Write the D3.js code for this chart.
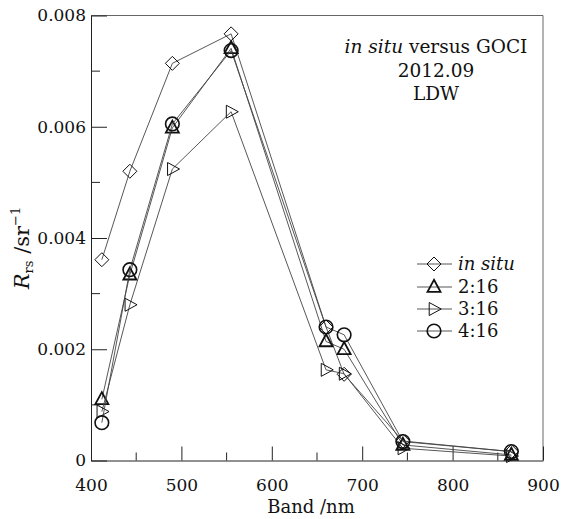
<!DOCTYPE html>
<html>
<head>
<meta charset="utf-8">
<script src="https://cdn.jsdelivr.net/npm/d3@7"></script>
<style>
  html, body { margin: 0; padding: 0; background: #fff; }
  svg text { font-family: "DejaVu Serif", "Liberation Serif", serif !important; fill: #111; }
</style>
</head>
<body>
<svg id="chart" width="561" height="519"></svg>
<script>
// GOCI band centres (nm)
const bands = [412, 443, 490, 555, 660, 680, 745, 865];

// Remote-sensing reflectance Rrs (sr^-1)
const inSitu = [0.00361, 0.00520, 0.00714, 0.00767, 0.00240, 0.00155, 0.00035, 0.00016];
const t0216  = [0.00110, 0.00334, 0.00598, 0.00741, 0.00214, 0.00200, 0.00028, 0.00010];
const t0316  = [0.00088, 0.00280, 0.00524, 0.00627, 0.00163, 0.00156, 0.00022, 0.00008];
const t0416  = [0.00068, 0.00343, 0.00605, 0.00737, 0.00240, 0.00226, 0.00034, 0.00016];

const seriesNames = ["in situ", "2:16", "3:16", "4:16"];
const seriesValues = [inSitu, t0216, t0316, t0416];
const seriesSymbols = ["diamond", "triUp", "triRight", "circle"];

const xMajorTicks = [400, 500, 600, 700, 800, 900];
const xMinorTicks = [450, 550, 650, 750, 850];
const yMajorTicks = [0, 0.002, 0.004, 0.006, 0.008];
const yMinorTicks = [0.001, 0.003, 0.005, 0.007];

const FONT = "'DejaVu Serif', 'Liberation Serif', serif";
const svg = d3.select("#chart");
const m = { left: 91, top: 15.5, right: 543, bottom: 460.5 };

const x = d3.scaleLinear().domain([400, 900]).range([m.left, m.right]);
const y = d3.scaleLinear().domain([0, 0.008]).range([m.bottom, m.top]);

// frame (top and right sides lighter)
svg.append("line").attr("x1", m.left).attr("x2", m.right).attr("y1", m.top).attr("y2", m.top)
  .attr("stroke", "#666").attr("stroke-width", 1);
svg.append("line").attr("x1", m.right).attr("x2", m.right).attr("y1", m.top).attr("y2", m.bottom)
  .attr("stroke", "#666").attr("stroke-width", 1);

// x axis with inward ticks
const xAxisG = svg.append("g").attr("transform", `translate(0,${m.bottom})`)
  .call(d3.axisBottom(x).tickValues(xMajorTicks).tickSizeInner(-14).tickSizeOuter(0).tickPadding(10)
    .tickFormat(d3.format("d")));
xAxisG.attr("font-family", FONT);
xAxisG.selectAll(".tick text").attr("dy", "0").attr("y", 30).style("font-size", "17px");
xAxisG.append("g").selectAll("line").data(xMinorTicks).join("line")
  .attr("x1", d => x(d)).attr("x2", d => x(d)).attr("y1", 0).attr("y2", -8).attr("stroke", "#222");

// y axis with inward ticks
const yAxisG = svg.append("g").attr("transform", `translate(${m.left},0)`)
  .call(d3.axisLeft(y).tickValues(yMajorTicks).tickSizeInner(-16).tickSizeOuter(0).tickPadding(6)
    .tickFormat(d => d === 0 ? "0" : d3.format(".3f")(d)));
yAxisG.attr("font-family", FONT);
yAxisG.selectAll(".tick text").attr("x", -5).style("font-size", "17px");
yAxisG.append("g").selectAll("line").data(yMinorTicks).join("line")
  .attr("y1", d => y(d)).attr("y2", d => y(d)).attr("x1", 0).attr("x2", 9).attr("stroke", "#222");
svg.selectAll(".domain").attr("stroke", "#222");
svg.selectAll(".tick line").attr("stroke", "#222");

// axis titles
svg.append("text").attr("x", 311).attr("y", 513).attr("text-anchor", "middle")
  .attr("font-family", FONT).style("font-size", "18px").text("Band /nm");

const yl = svg.append("text").attr("transform", "translate(29,248) rotate(-90)")
  .attr("font-family", FONT).attr("text-anchor", "middle").style("font-size", "21px");
yl.append("tspan").attr("font-style", "italic").text("R");
yl.append("tspan").attr("dy", 4).style("font-size", "13px").text("rs");
yl.append("tspan").attr("dy", -4).text(" /sr");
yl.append("tspan").attr("dy", -9).style("font-size", "13px").text("−1");

// annotation
const ann = svg.append("g").attr("font-family", FONT).style("font-size", "18.5px");
const t1 = ann.append("text").attr("x", 436).attr("y", 53).attr("text-anchor", "middle");
t1.append("tspan").attr("font-style", "italic").text("in situ");
t1.append("tspan").text(" versus GOCI");
ann.append("text").attr("x", 436).attr("y", 77).attr("text-anchor", "middle").text("2012.09");
ann.append("text").attr("x", 436).attr("y", 100).attr("text-anchor", "middle").text("LDW");

// marker shapes
function marker(g, kind, cx, cy) {
  if (kind === "diamond") {
    const r = 7;
    g.append("path").attr("d", `M${cx},${cy - r}L${cx + r},${cy}L${cx},${cy + r}L${cx - r},${cy}Z`)
      .attr("fill", "none").attr("stroke", "#111").attr("stroke-width", 1);
  } else if (kind === "triUp") {
    const h = 12, w = 13;
    g.append("path").attr("d", `M${cx},${cy - h * 0.6}L${cx + w / 2},${cy + h * 0.4}L${cx - w / 2},${cy + h * 0.4}Z`)
      .attr("fill", "none").attr("stroke", "#111").attr("stroke-width", 1.8);
  } else if (kind === "triRight") {
    const h = 12, w = 13;
    g.append("path").attr("d", `M${cx + h * 0.6},${cy}L${cx - h * 0.4},${cy - w / 2}L${cx - h * 0.4},${cy + w / 2}Z`)
      .attr("fill", "none").attr("stroke", "#111").attr("stroke-width", 1);
  } else {
    g.append("circle").attr("cx", cx).attr("cy", cy).attr("r", 6.8)
      .attr("fill", "none").attr("stroke", "#111").attr("stroke-width", 1.6);
  }
}

const line = d3.line().x((d, i) => x(bands[i])).y(d => y(d));
seriesValues.forEach((vals, s) => {
  const g = svg.append("g");
  g.append("path").datum(vals).attr("d", line).attr("fill", "none")
    .attr("stroke", "#444").attr("stroke-width", 0.9);
  vals.forEach((v, i) => marker(g, seriesSymbols[s], x(bands[i]), y(v)));
});

// legend
const legY = [264, 287, 309, 331];
seriesNames.forEach((name, s) => {
  const g = svg.append("g");
  g.append("line").attr("x1", 417).attr("x2", 452).attr("y1", legY[s]).attr("y2", legY[s])
    .attr("stroke", "#444").attr("stroke-width", 0.9);
  marker(g, seriesSymbols[s], 434, legY[s]);
  const t = g.append("text").attr("x", 458).attr("y", legY[s] + 6)
    .attr("font-family", FONT).style("font-size", "18px").text(name);
  if (s === 0) t.attr("font-style", "italic");
});
</script>
</body>
</html>
